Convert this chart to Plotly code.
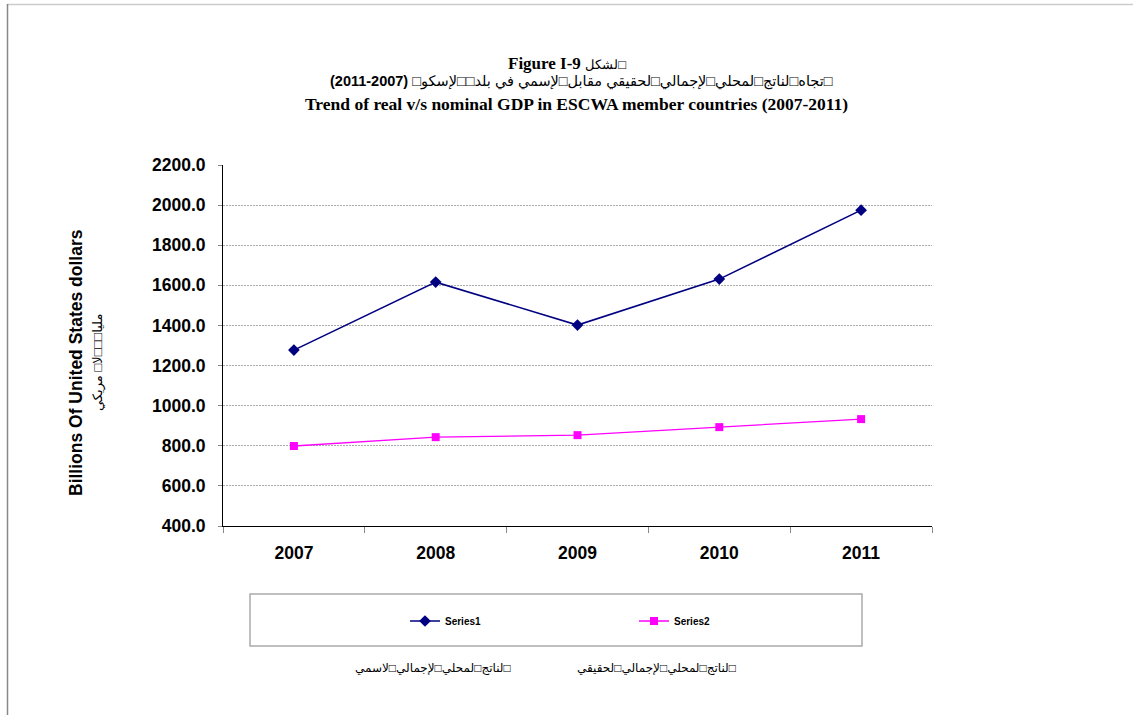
import plotly.graph_objects as go

years = ["2007", "2008", "2009", "2010", "2011"]
series1 = [1277, 1616, 1402, 1631, 1975]
series2 = [799, 843, 853, 893, 933]
series_names = ["Series1", "Series2"]

RLM = "\u200f"
LRI, PDI = "\u2066", "\u2069"
title1 = ("<b>Figure I-9</b> <span style=\"font-size:13px\">" + RLM + "□لشكل" + RLM
          + "</span>")
title2 = (RLM + "□تجاه□لناتج□لمحلي□لإجمالي□لحقيقي مقابل□لإسمي في بلد□□لإسكو□ "
          + LRI + "<b>(2011-2007)</b>" + PDI + RLM)
title3 = "<b>Trend of real v/s nominal GDP in ESCWA member countries (2007-2011)</b>"
ytitle_en = "<b>Billions Of United States dollars</b>"
ytitle_ar = RLM + "مليا□□□لا□ مريكي" + RLM
label_nominal = RLM + "□لناتج□لمحلي□لإجمالي□لاسمي" + RLM
label_real = RLM + "□لناتج□لمحلي□لإجمالي□لحقيقي" + RLM

W, H = 1133, 715
L, R, T, B = 223, 932, 165, 526


def px(x):
    return (x - L) / (R - L)


def py(y):
    return (B - y) / (B - T)


SANS = "Liberation Sans, Arial, DejaVu Sans, sans-serif"
SERIF = "Liberation Serif, Times New Roman, DejaVu Serif, serif"

fig = go.Figure()
fig.add_trace(go.Scatter(
    x=years, y=series1, name=series_names[0], mode="lines+markers",
    line=dict(color="#000080", width=1.6),
    marker=dict(symbol="diamond", size=9, color="#000080"),
    legend="legend",
))
fig.add_trace(go.Scatter(
    x=years, y=series2, name=series_names[1], mode="lines+markers",
    line=dict(color="#FF00FF", width=1.3),
    marker=dict(symbol="square", size=8, color="#FF00FF"),
    legend="legend2",
))

fig.update_layout(
    width=W, height=H,
    margin=dict(l=L, r=W - R, t=T, b=H - B, autoexpand=False),
    paper_bgcolor="white", plot_bgcolor="white",
    font=dict(family=SANS, color="black"),
    showlegend=True,
    legend=dict(x=px(405), y=py(621),
                xanchor="left", yanchor="middle", bgcolor="rgba(0,0,0,0)",
                font=dict(size=10, family=SANS, weight="bold")),
    legend2=dict(x=px(634), y=py(621),
                 xanchor="left", yanchor="middle", bgcolor="rgba(0,0,0,0)",
                 font=dict(size=10, family=SANS, weight="bold")),
)

fig.update_xaxes(
    type="category", range=[-0.5, len(years) - 0.5],
    showline=True, linecolor="black", linewidth=1,
    ticks="outside", tickson="boundaries", ticklen=6, tickcolor="#888",
    showgrid=False, zeroline=False,
    tickfont=dict(size=17.5, family=SANS, weight="bold"),
    ticklabelstandoff=11,
)
fig.update_yaxes(
    range=[400, 2200], dtick=200, tickformat=".1f",
    showline=True, linecolor="black", linewidth=1,
    ticks="outside", ticklen=4, tickcolor="#888",
    showgrid=True, gridcolor="#aaaaaa", gridwidth=1, griddash="2px,1px",
    zeroline=False,
    tickfont=dict(size=17.5, family=SANS, weight="bold"),
    ticklabelstandoff=9,
)

ann = [
    dict(text=title1, x=px(567), y=py(63), font=dict(size=17, family=SERIF)),
    dict(text=title2, x=px(581), y=py(82), font=dict(size=14.5, family=SANS)),
    dict(text=title3, x=px(576), y=py(104), font=dict(size=17.5, family=SERIF)),
    dict(text=ytitle_en, x=px(76), y=py(363), textangle=-90,
         font=dict(size=17.5, family=SANS)),
    dict(text=ytitle_ar, x=px(98), y=py(363), textangle=-90,
         font=dict(size=13, family=SANS)),
    dict(text=label_nominal, x=px(433), y=py(668), font=dict(size=12, family=SANS)),
    dict(text=label_real, x=px(656), y=py(668), font=dict(size=12, family=SANS)),
]
for a in ann:
    fig.add_annotation(xref="paper", yref="paper", showarrow=False,
                       xanchor="center", yanchor="middle", **a)

# legend frame and page border
fig.add_shape(type="rect", xref="paper", yref="paper",
              x0=px(250), x1=px(862), y0=py(594), y1=py(646),
              line=dict(color="#aaaaaa", width=1.5), layer="below")
fig.add_shape(type="line", xref="paper", yref="paper",
              x0=px(7), x1=px(1133), y0=py(4.5), y1=py(4.5),
              line=dict(color="#cccccc", width=1.5))
fig.add_shape(type="line", xref="paper", yref="paper",
              x0=px(7.5), x1=px(7.5), y0=py(4), y1=py(715),
              line=dict(color="#888888", width=1.5))

fig.write_html("out.html", config={"displayModeBar": False},
               post_script="document.body.style.margin='0px';"
                           "document.body.style.overflow='hidden';")
